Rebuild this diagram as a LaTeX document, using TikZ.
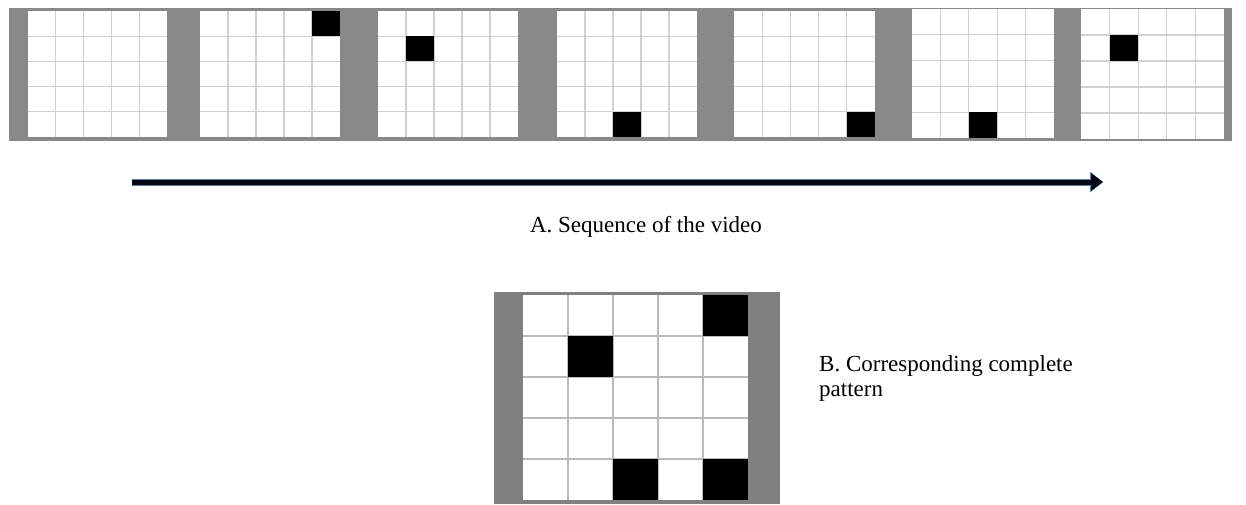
\documentclass[tikz,border=0pt]{standalone}
\usepackage{fontspec}
\setmainfont{Liberation Serif}
\usetikzlibrary{arrows.meta}
\definecolor{stripgray}{RGB}{137,137,137}
\definecolor{patgray}{RGB}{128,128,128}
\definecolor{linegray}{RGB}{208,208,208}
\definecolor{arrowink}{RGB}{4,8,18}
\definecolor{arrowglow}{RGB}{95,125,170}
\newcommand{\patterngrid}[6]{%
  \fill[white] (#1,#2) rectangle ++(#3,#4);
  \foreach \k in {1,...,4} {
    \draw[#6] ({#1+\k*#3/5},#2) -- ++(0,#4);
    \draw[#6] (#1,{#2+\k*#4/5}) -- ++(#3,0);
  }
  \foreach \cellc/\cellr in {#5} {
    \ifnum\cellc>0 \fill[black] ({#1+(\cellc-1)*#3/5},{#2+(\cellr-1)*#4/5}) rectangle ++({#3/5},{#4/5}); \fi
  }
}

\begin{document}
\begin{tikzpicture}[x=1pt, y=-1pt, >=Stealth,
    gridline/.style={linegray, line width=1.2pt},
    darkgrid/.style={gray!55, line width=1.2pt},
    seqarrow/.style={arrowink, line width=5pt, -{Triangle[length=12pt,width=17pt]},
      preaction={draw=arrowglow, line width=7pt, -{Triangle[length=13pt,width=20pt]}}},
    caption/.style={font=\fontsize{23}{25}\selectfont, inner sep=0pt}]
  \useasboundingbox[fill=white] (0,0) rectangle (1246,504);
  \fill[stripgray] (9,8) rectangle (1232,141);
  \foreach \fx/\fy/\fw/\fh/\fc/\fr in {28/11/139/126/0/0, 200/11/140/126/5/1, 378/11/140/126/2/2,
      557/11/140/126/3/5, 734/11/141/126/5/5, 912/9/142/129/3/5, 1081/9/143/130/2/2}
    \patterngrid{\fx}{\fy}{\fw}{\fh}{\fc/\fr}{gridline};
  \coordinate (arrowtail) at (132,182);
  \coordinate (arrowtip) at (1103,182);
  \draw[seqarrow] (arrowtail) -- (arrowtip);
  \node[caption, anchor=base] (seqlabel) at (646,232) {A. Sequence of the video};
  \fill[patgray] (494,292) rectangle (780,504);
  \patterngrid{523}{295}{225}{205}{5/1, 2/2, 3/5, 5/5}{darkgrid}
  \node[caption, anchor=north west, align=left] (patlabel) at (819,355) {B. Corresponding complete\\pattern};
\end{tikzpicture}
\end{document}
